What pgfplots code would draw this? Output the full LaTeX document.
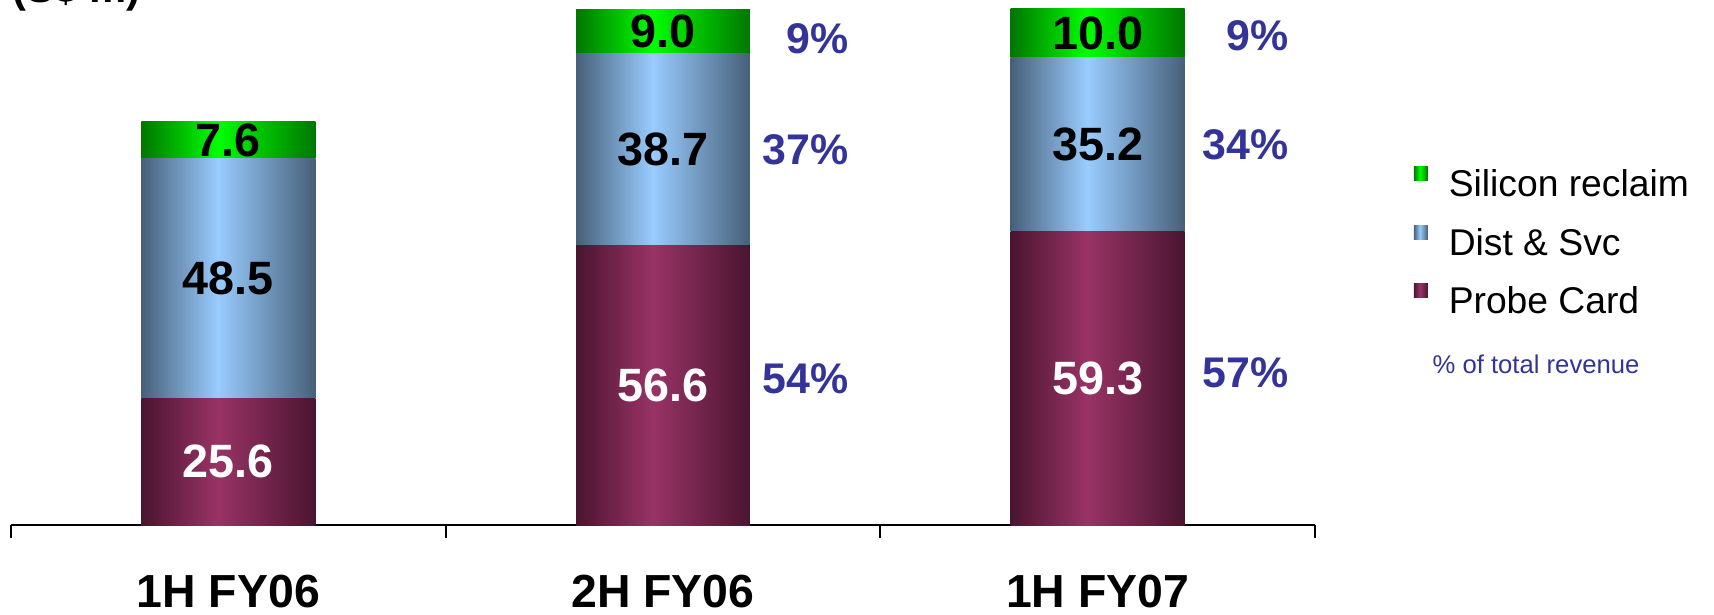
\documentclass[border=0pt]{standalone}
\usepackage{pgfplots}
\pgfplotsset{compat=1.18}
\usepackage{fontspec}
\setmainfont{Liberation Sans}
\definecolor{pdark}{HTML}{4A1530}
\definecolor{plight}{HTML}{993366}
\definecolor{bdark}{HTML}{476079}
\definecolor{blight}{HTML}{99CCFF}
\definecolor{gdark}{HTML}{007700}
\definecolor{glight}{HTML}{00FF00}
\definecolor{pctblue}{HTML}{333399}
\pgfdeclarehorizontalshading{probeshade}{100bp}{color(0bp)=(pdark); color(25bp)=(pdark); color(47bp)=(plight); color(75bp)=(pdark); color(100bp)=(pdark)}
\pgfdeclarehorizontalshading{distshade}{100bp}{color(0bp)=(bdark); color(25bp)=(bdark); color(47bp)=(blight); color(75bp)=(bdark); color(100bp)=(bdark)}
\pgfdeclarehorizontalshading{siliconshade}{100bp}{color(0bp)=(gdark); color(25bp)=(gdark); color(47bp)=(glight); color(75bp)=(gdark); color(100bp)=(gdark)}
\newcommand{\vallab}{\fontsize{13.3}{15}\selectfont\bfseries}
\newcommand{\pctlab}{\fontsize{12.2}{14}\selectfont\bfseries\color{pctblue}}
\pgfplotsset{
  base/.style={
    at={(1.1mm,8.9mm)}, anchor=south west,
    width=130.4mm, height=52.5mm, scale only axis,
    xmin=-0.5, xmax=2.5, ymin=0, ymax=106.2,
    clip=false,
    ybar stacked, bar width=0.4,
  },
  overlay/.style={base, hide axis},
  probe/.style={draw=none, shading=probeshade},
  dist/.style={draw=none, shading=distshade},
  silicon/.style={draw=none, shading=siliconshade},
}
\begin{document}
\begin{tikzpicture}
\useasboundingbox (0,0) rectangle (171.4mm,61.4mm);
\node[anchor=base west, inner sep=0pt, font=\fontsize{11.9}{14}\selectfont\bfseries] at (1.2mm,61.2mm) {(S\$ m)};
% category 1H FY06 (with the x axis)
\begin{axis}[
  base,
  axis x line*=bottom, axis y line=none,
  axis line style={black, line width=0.6pt},
  xtick={0,1,2},
  xticklabels={1H FY06,2H FY06,1H FY07},
  major tick length=0pt,
  minor xtick={-0.5,0.5,1.5,2.5},
  minor tick length=1.3mm,
  tick align=outside,
  minor tick style={black, line width=0.5pt},
  xticklabel style={font=\fontsize{13.2}{15}\selectfont\bfseries, anchor=base, yshift=-8.2mm, inner sep=0pt},
]
\addplot[probe] coordinates {(0,25.6)};
\addplot[dist] coordinates {(0,48.5)};
\addplot[silicon] coordinates {(0,7.6)};
\end{axis}
% category 2H FY06
\begin{axis}[overlay]
\addplot[probe] coordinates {(1,56.6)};
\addplot[dist] coordinates {(1,38.7)};
\addplot[silicon] coordinates {(1,9.0)};
\end{axis}
% category 1H FY07
\begin{axis}[overlay]
\addplot[probe] coordinates {(2,59.3)};
\addplot[dist] coordinates {(2,35.2)};
\addplot[silicon] coordinates {(2,10.0)};
\end{axis}
% labels and legend
\begin{axis}[overlay,
  legend image code/.code={\fill[#1] (0mm,0.65mm) rectangle (1.4mm,2.05mm);},
  legend style={at={(rel axis cs:1.0752,0.684)}, anchor=north west,
    draw=none, fill=none, inner sep=0pt, row sep=2.12mm,
    font=\fontsize{10.6}{12}\selectfont,
    nodes={inner sep=0pt, text height=0.75em, text depth=0.2em},
    /tikz/every odd column/.append style={column sep=2.1mm}},
  legend cell align=left,
]
\addlegendimage{silicon}
\addlegendentry{Silicon reclaim}
\addlegendimage{dist}
\addlegendentry{Dist \& Svc}
\addlegendimage{probe}
\addlegendentry{Probe Card}
% value labels
\node[font=\vallab, text=white] at (axis cs:0,12.8) {25.6};
\node[font=\vallab] at (axis cs:0,49.85) {48.5};
\node[font=\vallab] at (axis cs:0,77.9) {7.6};
\node[font=\vallab, text=white] at (axis cs:1,28.3) {56.6};
\node[font=\vallab] at (axis cs:1,75.95) {38.7};
\node[font=\vallab] at (axis cs:1,99.8) {9.0};
\node[font=\vallab, text=white] at (axis cs:2,29.65) {59.3};
\node[font=\vallab] at (axis cs:2,76.9) {35.2};
\node[font=\vallab] at (axis cs:2,99.5) {10.0};
% percentages of total revenue
\node[anchor=east, inner sep=0pt, font=\pctlab] at (axis cs:1.428,29.5) {54\%};
\node[anchor=east, inner sep=0pt, font=\pctlab] at (axis cs:1.428,76.0) {37\%};
\node[anchor=east, inner sep=0pt, font=\pctlab] at (axis cs:1.428,98.4) {9\%};
\node[anchor=east, inner sep=0pt, font=\pctlab] at (axis cs:2.44,30.8) {57\%};
\node[anchor=east, inner sep=0pt, font=\pctlab] at (axis cs:2.44,76.9) {34\%};
\node[anchor=east, inner sep=0pt, font=\pctlab] at (axis cs:2.44,99.0) {9\%};
\node[font=\fontsize{7.3}{9}\selectfont, text=pctblue] at (rel axis cs:1.1695,0.3067) {\% of total revenue};
\end{axis}
\end{tikzpicture}
\end{document}
